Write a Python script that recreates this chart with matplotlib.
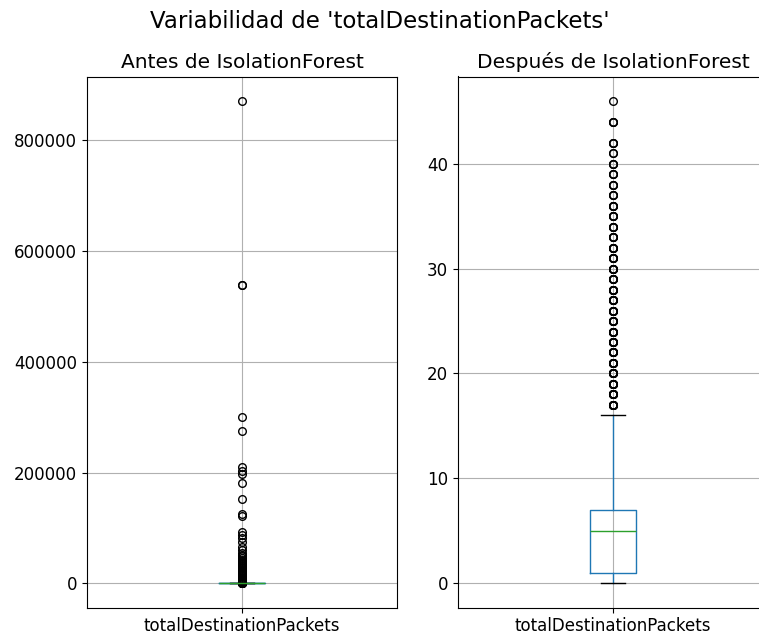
import numpy as np
import matplotlib.pyplot as plt

# summary stats of totalDestinationPackets before / after outlier removal
label = "totalDestinationPackets"

before_box = dict(whislo=0, q1=1, med=3, q3=10, whishi=23)
before_fliers = [30, 50, 80, 120, 200, 300, 500, 800, 1200, 1800, 2500, 3500,
                 4500, 6000, 7500, 9000, 11000, 13000, 15000, 17000, 19000,
                 21000, 23000, 25000, 27000, 29000, 31000, 33000, 35000, 37000,
                 39000, 41000, 43000, 46000, 49000, 52000, 55000, 59700, 65700,
                 74750, 81400, 86900, 92850, 122000, 124800, 152000, 181000,
                 197000, 203000, 210000, 275600, 300500, 539000, 539000, 872000]

after_box = dict(whislo=0, q1=1, med=5, q3=7, whishi=16)
after_values = [17, 18, 19, 20, 21, 22, 23, 24, 25, 26, 27, 28, 29, 30, 31, 32,
                33, 34, 35, 36, 37, 38, 39, 40, 41, 42, 44, 46]
after_counts = [9, 9, 8, 8, 8, 7, 7, 7, 6, 6, 6, 6, 5, 5, 5, 5,
                4, 4, 4, 4, 3, 3, 3, 3, 2, 3, 3, 1]
after_fliers = np.repeat(after_values, after_counts)

fig = plt.figure(figsize=(7.59, 6.35), dpi=100)
ax1 = fig.add_axes([87/759, 1 - 607.5/635, 310/759, 531/635])
ax2 = fig.add_axes([458/759, 1 - 607.5/635, 310/759, 531/635])

def draw(ax, box, fliers, title):
    stats = dict(box, fliers=fliers, label=label)
    ax.bxp([stats],
           boxprops=dict(color="#1f77b4"),
           whiskerprops=dict(color="#1f77b4"),
           medianprops=dict(color="#2ca02c", zorder=2.5),
           capprops=dict(color="k"),
           flierprops=dict(marker="o", markersize=5.5, markerfacecolor="none",
                           markeredgecolor="k"))
    ax.grid(True, color="#b0b0b0", linewidth=0.8)
    ax.set_axisbelow(True)
    ax.set_title(title, fontsize=14.5)
    ax.tick_params(labelsize=12)

draw(ax1, before_box, before_fliers, "Antes de IsolationForest")
draw(ax2, after_box, after_fliers, "Después de IsolationForest")

fig.suptitle("Variabilidad de 'totalDestinationPackets'", fontsize=16.5, y=0.985)

fig.savefig("out.png", dpi=100)
